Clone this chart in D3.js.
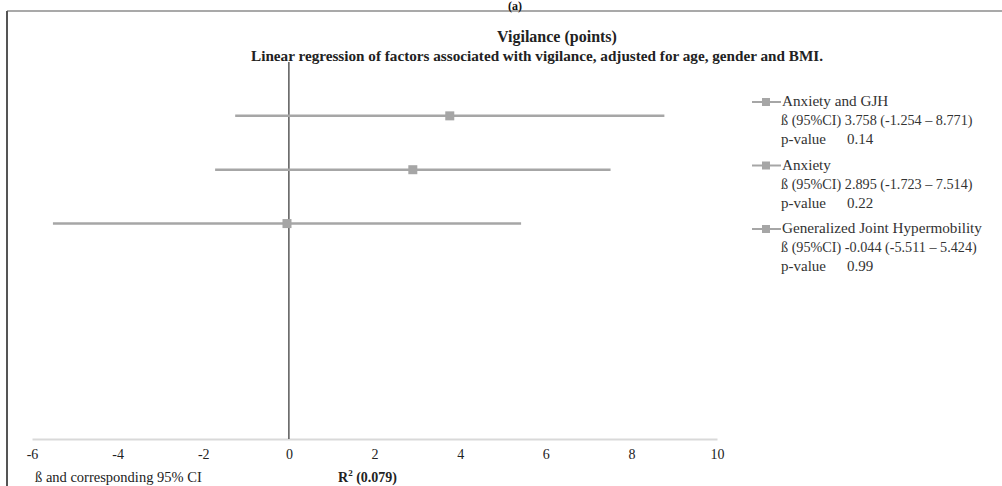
<!DOCTYPE html>
<html><head><meta charset="utf-8">
<script src="https://cdn.jsdelivr.net/npm/d3@7"></script>
<style>body{margin:0;background:#fff}svg{display:block}</style>
</head><body>
<svg id="c" width="1002" height="486"></svg>
<script>
const names = ["Anxiety and GJH", "Anxiety", "Generalized Joint Hypermobility"];
const beta = [3.758, 2.895, -0.044];
const lower = [-1.254, -1.723, -5.511];
const upper = [8.771, 7.514, 5.424];
const ciText = ["3.758 (-1.254 \u2013 8.771)", "2.895 (-1.723 \u2013 7.514)", "-0.044 (-5.511 \u2013 5.424)"];
const pValues = ["0.14", "0.22", "0.99"];
const rowPos = [3, 2, 1];
const xTicks = [-6, -4, -2, 0, 2, 4, 6, 8, 10];

const svg = d3.select("#c");
const font = "'Liberation Serif', 'DejaVu Serif', serif";
const gray = "#a6a6a6";

// frame
svg.append("line").attr("x1", 7).attr("x2", 1002).attr("y1", 11).attr("y2", 11).attr("stroke", "#8c8c8c").attr("stroke-width", 1.5);
svg.append("line").attr("x1", 7).attr("x2", 7).attr("y1", 11).attr("y2", 486).attr("stroke", "#555").attr("stroke-width", 2);
svg.append("text").attr("x", 515).attr("y", 10).attr("text-anchor", "middle").attr("font-family", font).attr("font-weight", "bold").attr("font-size", 12).attr("fill", "#111").text("(a)");

const x = d3.scaleLinear().domain([-6, 10]).range([32, 717]);
const y = d3.scaleLinear().domain([-3, 4]).range([439, 62]);

// titles
svg.append("text").attr("x", 557).attr("y", 42).attr("text-anchor", "middle").attr("font-family", font).attr("font-weight", "bold").attr("font-size", 16).attr("fill", "#222").text("Vigilance (points)");
svg.append("text").attr("x", 537).attr("y", 61).attr("text-anchor", "middle").attr("font-family", font).attr("font-weight", "bold").attr("font-size", 15.2).attr("fill", "#222").text("Linear regression of factors associated with vigilance, adjusted for age, gender and BMI.");

// axis
const ax = svg.append("g").attr("transform", `translate(0,${y(-3)})`)
  .call(d3.axisBottom(x).tickValues(xTicks).tickSize(0).tickPadding(10).tickFormat(d => String(d)));
ax.select(".domain").attr("stroke", "#d9d9d9").attr("stroke-width", 2);
ax.selectAll("text").attr("font-family", font).attr("font-size", 14).attr("fill", "#222");

// zero line
svg.append("line").attr("x1", x(0)).attr("x2", x(0)).attr("y1", y(4)).attr("y2", y(-3)).attr("stroke", "#595959").attr("stroke-width", 1.5);

// CI bars
const rows = names.map((n, i) => ({n, b: beta[i], lo: lower[i], hi: upper[i], r: rowPos[i]}));
svg.selectAll(".ci").data(rows).join("line").attr("class", "ci")
  .attr("x1", d => x(d.lo)).attr("x2", d => x(d.hi))
  .attr("y1", d => y(d.r)).attr("y2", d => y(d.r))
  .attr("stroke", gray).attr("stroke-width", 2.5);
svg.selectAll(".pt").data(rows).join("rect").attr("class", "pt")
  .attr("x", d => x(d.b) - 4.5).attr("y", d => y(d.r) - 4.5)
  .attr("width", 9).attr("height", 9).attr("fill", gray);

// legend
const lg = svg.append("g");
names.forEach((n, i) => {
  const top = 106 + i * 63.5;
  lg.append("line").attr("x1", 752).attr("x2", 781).attr("y1", top - 4).attr("y2", top - 4).attr("stroke", gray).attr("stroke-width", 2);
  lg.append("rect").attr("x", 762).attr("y", top - 8).attr("width", 8).attr("height", 8).attr("fill", gray);
  lg.append("text").attr("x", 782).attr("y", top).attr("font-family", font).attr("font-size", 15.2).attr("fill", "#333").text(n);
  lg.append("text").attr("x", 781).attr("y", top + 19).attr("font-family", font).attr("font-size", 14.2).attr("fill", "#333").text("\u00df (95%CI) " + ciText[i]);
  const pv = lg.append("text").attr("x", 781).attr("y", top + 38).attr("font-family", font).attr("font-size", 15).attr("fill", "#333");
  pv.append("tspan").text("p-value");
  pv.append("tspan").attr("x", 847).text(pValues[i]);
});

// bottom labels
svg.append("text").attr("x", 35).attr("y", 482).attr("font-family", font).attr("font-size", 14.5).attr("fill", "#222").text("\u00df and corresponding 95% CI");
const r2 = svg.append("text").attr("x", 338).attr("y", 482).attr("font-family", font).attr("font-weight", "bold").attr("font-size", 14).attr("fill", "#222");
r2.append("tspan").text("R");
r2.append("tspan").attr("font-size", 9).attr("dy", -6).text("2");
r2.append("tspan").attr("dy", 6).text("  (0.079)");
</script>
</body></html>
